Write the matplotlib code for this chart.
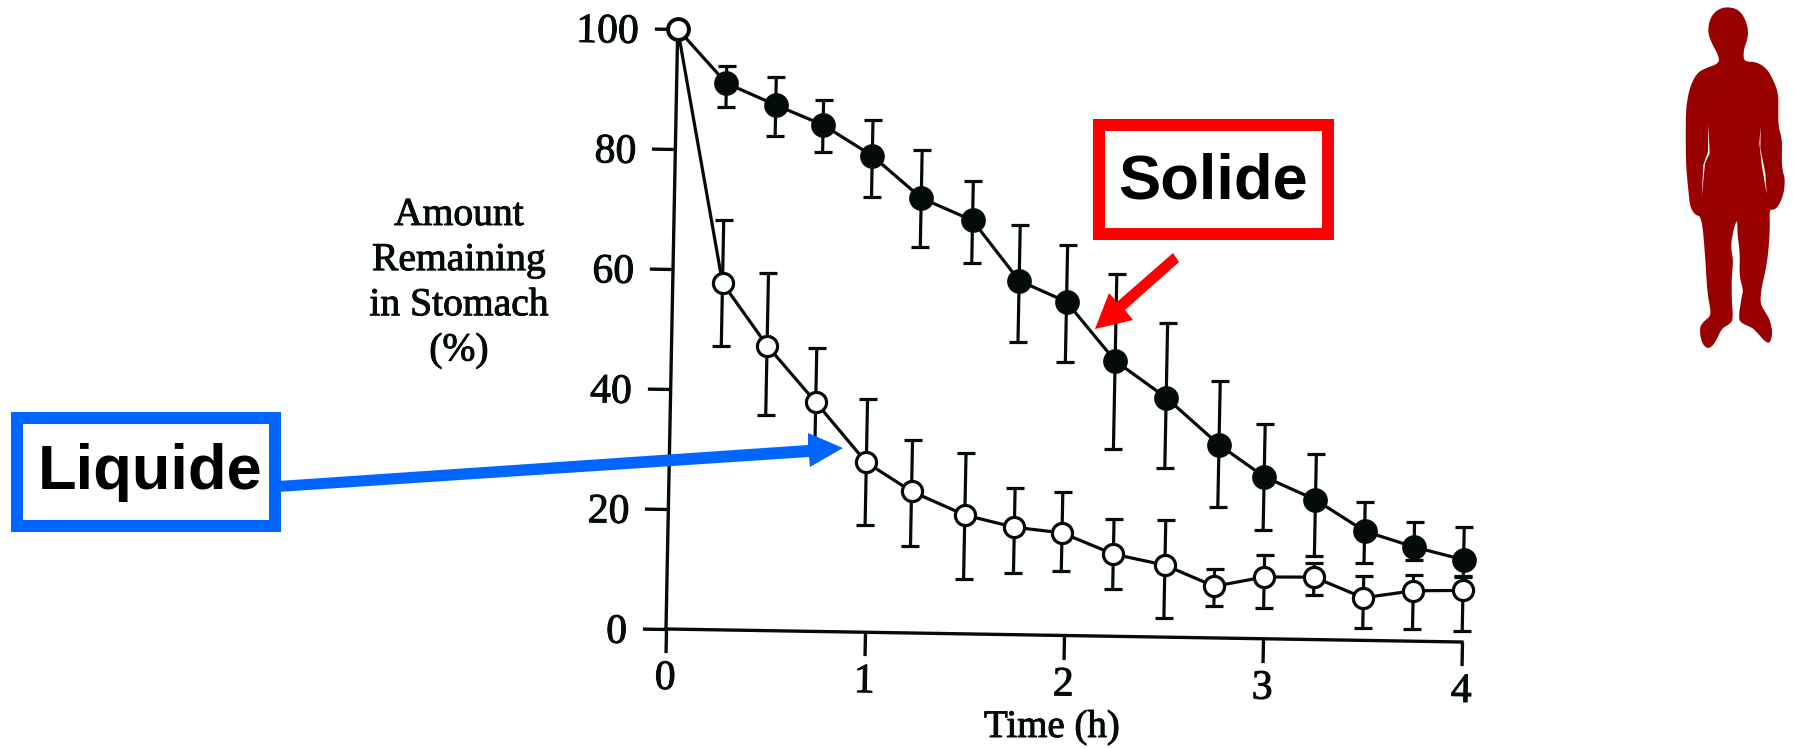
import numpy as np
import matplotlib
matplotlib.use("Agg")
import matplotlib.pyplot as plt
import matplotlib.patheffects as pe
from matplotlib.patches import Polygon, Rectangle
from matplotlib.transforms import Affine2D
from mpl_toolkits.axisartist.floating_axes import FloatingAxes, GridHelperCurveLinear
from mpl_toolkits.axisartist.grid_finder import FixedLocator, DictFormatter

W, H = 1793, 748

# data
solid_time = [0, 0.25, 0.5, 0.74, 0.99, 1.24, 1.5, 1.74, 1.98, 2.23, 2.49, 2.76, 2.99, 3.25, 3.5, 3.75, 4]
solid = [100, 91.1, 87.6, 84.4, 79.4, 72.5, 68.9, 59.0, 55.6, 45.9, 39.9, 32.2, 27.0, 23.3, 18.2, 15.7, 13.7]
solid_top = [100, 94.0, 92.3, 88.6, 85.4, 80.5, 75.5, 68.2, 65.1, 60.3, 52.4, 42.9, 35.8, 30.9, 23.1, 19.9, 19.2]
solid_bot = [100, 87.1, 82.4, 79.9, 72.6, 64.3, 61.8, 48.7, 45.5, 31.2, 28.2, 21.8, 18.1, 13.9, 12.9, 13.5, 10.9]
liquid_time = [0, 0.25, 0.48, 0.73, 0.99, 1.22, 1.49, 1.74, 1.98, 2.24, 2.5, 2.75, 3, 3.25, 3.5, 3.75, 4]
liquid = [100, 57.8, 47.5, 38.2, 28.3, 23.6, 19.8, 17.9, 17.1, 13.7, 12.0, 8.6, 10.3, 10.4, 7.1, 8.4, 8.6]
liquid_top = [100, 68.3, 59.6, 47.3, 38.9, 32.1, 30.2, 24.4, 23.9, 19.6, 19.6, 11.5, 13.9, 12.7, 10.7, 11.1, 11.0]
liquid_bot = [100, 47.3, 35.9, 30.0, 17.8, 14.5, 9.1, 10.3, 10.7, 7.8, 3.2, 5.4, 5.2, 7.4, 2.0, 2.1, 1.8]
x_ticks = [0, 1, 2, 3, 4]
y_ticks = [0, 20, 40, 60, 80, 100]
y_title = "Amount\nRemaining\nin Stomach\n(%)"

INK = "#030c06"
SERIF = "Liberation Serif"
heavy = [pe.withStroke(linewidth=0.7, foreground=INK)]

fig = plt.figure(figsize=(W / 100, H / 100), dpi=100, facecolor="white")

# the scanned page sits slightly crooked, so the axes are sheared a little
tr = Affine2D.from_values(199.0, -3.25, 0.117, 6.0, 666, H - 629)
helper = GridHelperCurveLinear(
    tr, extremes=(0, 4, 0, 100),
    grid_locator1=FixedLocator(x_ticks), grid_locator2=FixedLocator(y_ticks),
    tick_formatter1=DictFormatter({v: str(v) for v in x_ticks}),
    tick_formatter2=DictFormatter({v: str(v) for v in y_ticks}),
)
ax = fig.add_subplot(111, axes_class=FloatingAxes, grid_helper=helper)
ax.set_position([0, 0, 1, 1])
ax.patch.set_visible(False)
aux = ax.get_aux_axes(tr)

ax.axis["top"].set_visible(False)
ax.axis["right"].set_visible(False)
for side, pad in [("left", 11), ("bottom", 6)]:
    a = ax.axis[side]
    a.line.set_linewidth(2.4)
    a.line.set_color(INK)
    a.major_ticks.set_tick_out(True)
    a.major_ticks.set_ticksize(17)
    a.major_ticks.set_markeredgewidth(2.4)
    a.major_ticks.set_color(INK)
    a.major_ticklabels.set_fontsize(30)
    a.major_ticklabels.set_family(SERIF)
    a.major_ticklabels.set_color(INK)
    a.major_ticklabels.set_pad(pad)
    a.major_ticklabels.set_path_effects(heavy)
    a.minor_ticks.set_visible(False)
    a.minor_ticklabels.set_visible(False)
ax.axis["left"].major_ticklabels.set_va("center_baseline")

ax.axis["bottom"].label.set_visible(False)
ax.axis["left"].label.set_visible(False)

for times, vals, top, bot, face, ms, z in [
    (solid_time, solid, solid_top, solid_bot, INK, 15.5, 3),
    (liquid_time, liquid, liquid_top, liquid_bot, "white", 14.5, 4),
]:
    vals, top, bot = np.array(vals), np.array(top), np.array(bot)
    lines = aux.errorbar(times, vals, yerr=[vals - bot, top - vals], color=INK, lw=2.3,
                         elinewidth=2.3, capsize=6.7, capthick=2.3, marker="o", ms=ms,
                         mfc=face, mec=INK, mew=2.3, zorder=z, clip_on=False)
    for art in lines.get_children():
        art.set_clip_on(False)

ax.set_xlim(0, W)
ax.set_ylim(0, H)

# overlay in pixel coordinates for the slide annotations
ov = fig.add_axes([0, 0, 1, 1], facecolor="none")
ov.set_xlim(0, W)
ov.set_ylim(H, 0)
ov.axis("off")

ov.text(459, 197, y_title, family=SERIF, fontsize=28.5, color=INK, ha="center", va="top",
        multialignment="center", linespacing=1.29, path_effects=heavy)
ov.text(1052, 737, "Time (h)", family=SERIF, fontsize=28, color=INK, ha="center", va="baseline",
        path_effects=heavy)

BLUE = "#0066ff"
RED = "#ff0000"
blue_arrow = [(278, 481), (808, 445), (808, 433), (843, 448), (810, 467), (809, 457), (278, 492)]
red_arrow = [(1173, 253), (1179, 262), (1125, 310), (1133, 320), (1095, 329), (1109, 293), (1117, 302)]
ov.add_patch(Polygon(blue_arrow, closed=True, fc=BLUE, ec="none"))
ov.add_patch(Polygon(red_arrow, closed=True, fc=RED, ec="none"))

ov.add_patch(Rectangle((17, 418), 258, 108, fc="white", ec=BLUE, lw=8.64, joinstyle="miter"))
ov.add_patch(Rectangle((1099, 125), 229, 109, fc="white", ec=RED, lw=8.64, joinstyle="miter"))
ov.text(38, 489, "Liquide", family="Liberation Sans", weight="bold", fontsize=45.5, color="black", va="baseline")
ov.text(1118, 198, "Solide", family="Liberation Sans", weight="bold", fontsize=45.5, color="black", va="baseline")


def chaikin(pts, n=2):
    p = np.array(pts, float)
    for _ in range(n):
        q = np.roll(p, -1, axis=0)
        p = np.column_stack([0.75 * p + 0.25 * q, 0.25 * p + 0.75 * q]).reshape(-1, 2)
    return p


# silhouette outline, traced on a 3x crop starting at x=1660
body = [(200, 20), (235, 28), (255, 55), (265, 90), (262, 120), (252, 145), (250, 175), (258, 185),
        (290, 186), (320, 205), (340, 240), (355, 280), (355, 330), (355, 380), (367, 420), (365, 480),
        (368, 515), (375, 535), (372, 580), (355, 620), (340, 630), (328, 628), (330, 680), (325, 760),
        (315, 820), (305, 860), (300, 910), (315, 935), (330, 960), (338, 1000), (330, 1030), (315, 1025),
        (285, 990), (270, 980), (245, 970), (235, 955), (245, 890), (250, 870), (238, 830), (240, 760),
        (232, 700), (232, 655), (220, 690), (212, 740), (220, 780), (215, 830), (215, 900), (220, 960),
        (205, 975), (185, 985), (165, 1030), (145, 1048), (125, 1030), (118, 985), (130, 965), (150, 950),
        (152, 930), (142, 880), (135, 760), (125, 650), (105, 645), (90, 620), (85, 570), (78, 500),
        (77, 400), (78, 320), (90, 260), (110, 220), (135, 205), (178, 190), (175, 165), (155, 130),
        (143, 95), (150, 55), (170, 30)]
slit_l = [(145, 372), (149, 460), (135, 490), (125, 592), (130, 495), (144, 455)]
slit_r = [(302, 378), (298, 430), (306, 500), (320, 582), (316, 520), (301, 445)]
for pts, col, n in [(body, "#990000", 2), (slit_l, "white", 0), (slit_r, "white", 0)]:
    p = chaikin(pts, n) / 3 + [1660, 0]
    ov.add_patch(Polygon(p, closed=True, fc=col, ec="none"))

fig.savefig("out.png", dpi=100)
